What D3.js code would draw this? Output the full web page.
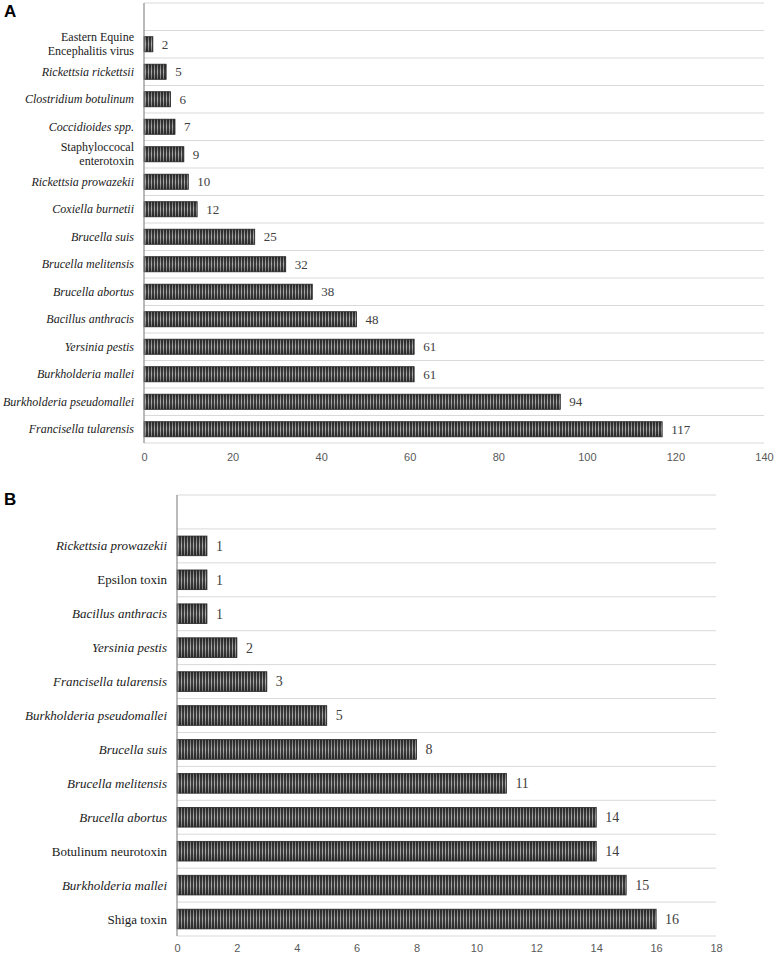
<!DOCTYPE html>
<html><head><meta charset="utf-8">
<script src="https://cdn.jsdelivr.net/npm/d3@7"></script>
<style>body{margin:0;background:#fff}svg{display:block}</style>
</head><body>
<script>
// Panel A data (top-to-bottom)
const catsA = ["Eastern Equine\nEncephalitis virus","Rickettsia rickettsii","Clostridium botulinum","Coccidioides spp.","Staphyloccocal\nenterotoxin","Rickettsia prowazekii","Coxiella burnetii","Brucella suis","Brucella melitensis","Brucella abortus","Bacillus anthracis","Yersinia pestis","Burkholderia mallei","Burkholderia pseudomallei","Francisella tularensis"];
const valsA = [2,5,6,7,9,10,12,25,32,38,48,61,61,94,117];
const italicA = [false,true,true,true,false,true,true,true,true,true,true,true,true,true,true];
const ticksA = [0,20,40,60,80,100,120,140];

// Panel B data (top-to-bottom)
const catsB = ["Rickettsia prowazekii","Epsilon toxin","Bacillus anthracis","Yersinia pestis","Francisella tularensis","Burkholderia pseudomallei","Brucella suis","Brucella melitensis","Brucella abortus","Botulinum neurotoxin","Burkholderia mallei","Shiga toxin"];
const valsB = [1,1,1,2,3,5,8,11,14,14,15,16];
const italicB = [true,false,true,true,true,true,true,true,true,false,true,false];
const ticksB = [0,2,4,6,8,10,12,14,16,18];

const SERIF = "'Liberation Serif', 'Times New Roman', 'DejaVu Serif', serif";
const SANS = "'Liberation Sans', Arial, sans-serif";

const svg = d3.select("body").append("svg").attr("width",774).attr("height",958);
const defs = svg.append("defs");
const pat = defs.append("pattern").attr("id","stripe").attr("patternUnits","userSpaceOnUse").attr("width",3).attr("height",4);
pat.append("rect").attr("width",3).attr("height",4).attr("fill","#3c3c3c");
pat.append("rect").attr("x",1).attr("width",1).attr("height",4).attr("fill","#a8a8a8");
const grad = defs.append("linearGradient").attr("id","shade").attr("x1",0).attr("y1",0).attr("x2",0).attr("y2",1);
grad.append("stop").attr("offset","0%").attr("stop-color","#000").attr("stop-opacity",0.35);
grad.append("stop").attr("offset","45%").attr("stop-color","#000").attr("stop-opacity",0);
grad.append("stop").attr("offset","55%").attr("stop-color","#000").attr("stop-opacity",0);
grad.append("stop").attr("offset","100%").attr("stop-color","#000").attr("stop-opacity",0.35);

function panel(cfg){
  const g = svg.append("g");
  const x = d3.scaleLinear().domain([0, cfg.max]).range([cfg.x0, cfg.x1]);
  const y = d3.scaleBand().domain(["__blank__"].concat(cfg.cats)).range([cfg.y0, cfg.y1]).paddingInner(cfg.pad).paddingOuter(cfg.pad/2);
  const step = y.step();
  const bounds = d3.range(cfg.cats.length + 2).map(i => cfg.y0 + i*step);
  g.selectAll("line.grid").data(bounds).enter().append("line")
    .attr("x1", cfg.x0).attr("x2", cfg.x1).attr("y1", d=>d).attr("y2", d=>d)
    .attr("stroke","#d9d9d9").attr("stroke-width",1);
  g.selectAll("rect.bar").data(cfg.cats).enter().append("rect")
    .attr("x", x(0)).attr("y", d=>y(d)).attr("height", y.bandwidth())
    .attr("width", (d,i)=>x(cfg.vals[i])-x(0))
    .attr("fill","url(#stripe)");
  g.selectAll("rect.shade").data(cfg.cats).enter().append("rect")
    .attr("x", x(0)).attr("y", d=>y(d)).attr("height", y.bandwidth())
    .attr("width", (d,i)=>x(cfg.vals[i])-x(0))
    .attr("fill","url(#shade)").attr("stroke","#2a2a2a").attr("stroke-width",0.8);
  g.selectAll("text.val").data(cfg.cats).enter().append("text")
    .attr("x",(d,i)=>x(cfg.vals[i])+9).attr("y", d=>y(d)+y.bandwidth()/2)
    .attr("dy","0.35em").style("font-family",SERIF).attr("font-size",cfg.vfs)
    .attr("fill","#404040").text((d,i)=>cfg.vals[i]);
  cfg.cats.forEach((c,i)=>{
    const lines = c.split("\n");
    const cy = y(c)+y.bandwidth()/2;
    const t = g.append("text").attr("x", cfg.x0-10).attr("text-anchor","end")
      .style("font-family",SERIF).attr("font-size",cfg.fs)
      .attr("font-style", cfg.italic[i] ? "italic" : "normal").attr("fill","#1a1a1a");
    lines.forEach((ln,j)=>{
      t.append("tspan").attr("x", cfg.x0-10).attr("y", cy + (j-(lines.length-1)/2)*14).attr("dy","0.35em").text(ln);
    });
  });
  const ax = d3.axisBottom(x).tickValues(cfg.ticks).tickSize(0).tickPadding(cfg.tp);
  const axg = g.append("g").attr("transform",`translate(0,${cfg.y1})`).call(ax);
  axg.select(".domain").remove();
  axg.selectAll("text").style("font-family",SANS).attr("font-size",11).attr("fill","#595959");
  g.append("line").attr("x1",cfg.x0).attr("x2",cfg.x0).attr("y1",cfg.y0).attr("y2",cfg.y1)
    .attr("stroke","#8c8c8c").attr("stroke-width",1.2);
  svg.append("text").attr("x",cfg.lx).attr("y",cfg.ly).style("font-family",SANS)
    .attr("font-weight","bold").attr("font-size",17).attr("fill","#000").text(cfg.letter);
}

panel({cats:catsA, vals:valsA, italic:italicA, ticks:ticksA, max:140, x0:144, x1:764, y0:3, y1:443, pad:0.45, fs:12, vfs:13, tp:10, letter:"A", lx:4, ly:17});
panel({cats:catsB, vals:valsB, italic:italicB, ticks:ticksB, max:18, x0:177, x1:716, y0:495, y1:936, pad:0.42, fs:13, vfs:14, tp:8, letter:"B", lx:4, ly:505});
</script>
</body></html>
